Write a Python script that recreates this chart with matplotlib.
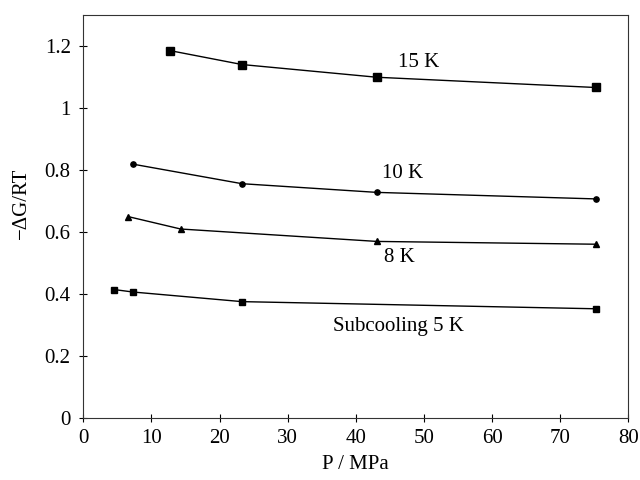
import matplotlib.pyplot as plt

plt.rcParams['font.family'] = ['Liberation Serif', 'DejaVu Serif']

# Pressure (MPa) and -dG/RT for each subcooling
p_15 = [12.7, 23.3, 43.1, 75.2]
g_15 = [1.185, 1.140, 1.099, 1.066]

p_10 = [7.3, 23.3, 43.1, 75.2]
g_10 = [0.819, 0.756, 0.728, 0.707]

p_8 = [6.6, 14.3, 43.1, 75.2]
g_8 = [0.650, 0.610, 0.570, 0.561]

p_5 = [4.5, 7.3, 23.3, 75.2]
g_5 = [0.415, 0.407, 0.376, 0.353]

fig = plt.figure(figsize=(6.4, 4.8), dpi=100)
ax = fig.add_axes([0.130, 0.1285, 0.852, 0.8405])

ax.plot(p_15, g_15, color='black', lw=1, marker='s', ms=5.5)
ax.plot(p_10, g_10, color='black', lw=1, marker='o', ms=3.8)
ax.plot(p_8, g_8, color='black', lw=1, marker='^', ms=4)
ax.plot(p_5, g_5, color='black', lw=1, marker='s', ms=4.5)

ax.text(46.2, 1.146, '15 K', fontsize=15, va='center')
ax.text(43.9, 0.788, '10 K', fontsize=15, va='center')
ax.text(44.2, 0.517, '8 K', fontsize=15, va='center')
ax.text(36.7, 0.295, 'Subcooling 5 K', fontsize=15, va='center')

ax.set_xlim(0, 80)
ax.set_ylim(0, 1.3)
ax.set_xticks(range(0, 81, 10))
ax.set_yticks([0, 0.2, 0.4, 0.6, 0.8, 1, 1.2])
ax.set_yticklabels(['0', '0.2', '0.4', '0.6', '0.8', '1', '1.2'])
ax.tick_params(direction='inout', length=6, labelsize=15, width=0.8)
ax.tick_params(axis='x', pad=5)
ax.tick_params(axis='y', pad=6)
for s in ax.spines.values():
    s.set_color('#333333')
ax.set_xlabel('P / MPa', fontsize=15, labelpad=5)
ax.set_ylabel('−ΔG/RT', fontsize=15, labelpad=10)
ax.yaxis.set_label_coords(-0.095, 0.534)

fig.savefig('out.png', dpi=100)
